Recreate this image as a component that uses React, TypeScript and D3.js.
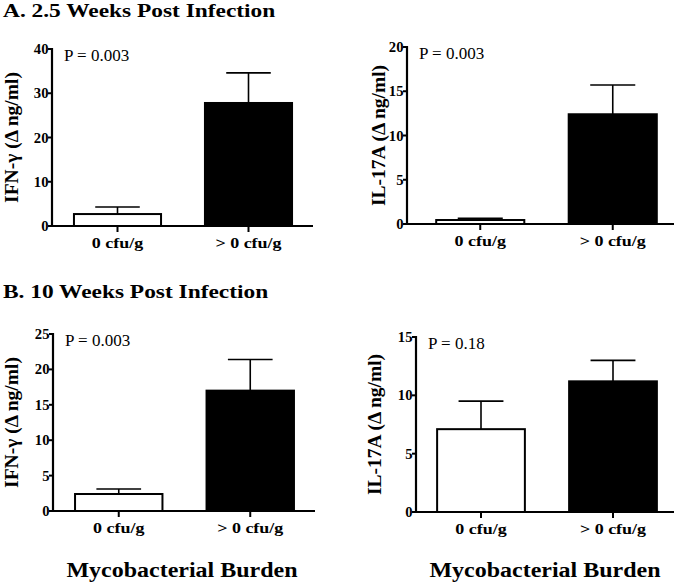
import React from "react";
import * as d3 from "d3";

const categories = ["0 cfu/g", "> 0 cfu/g"];

const aIfnMeans = [2.7, 27.8];
const aIfnErr = [4.3, 34.6];
const aIl17Means = [0.45, 12.4];
const aIl17Err = [0.65, 15.7];
const bIfnMeans = [2.4, 17.0];
const bIfnErr = [3.1, 21.4];
const bIl17Means = [7.1, 11.2];
const bIl17Err = [9.5, 13.0];

const aIfnTicks = [0, 10, 20, 30, 40];
const aIl17Ticks = [0, 5, 10, 15, 20];
const bIfnTicks = [0, 5, 10, 15, 20, 25];
const bIl17Ticks = [0, 5, 10, 15];

const pValues = ["P = 0.003", "P = 0.003", "P = 0.003", "P = 0.18"];
const yLabels = ["IFN-γ (Δ ng/ml)", "IL-17A (Δ ng/ml)", "IFN-γ (Δ ng/ml)", "IL-17A (Δ ng/ml)"];
const titles = ["A. 2.5 Weeks Post Infection", "B. 10 Weeks Post Infection"];
const xTitle = "Mycobacterial Burden";

const FONT = "Liberation Serif";
const SX = 1.2;

type Panel = {
  means: number[];
  errs: number[];
  ticks: number[];
  p: string;
  ylab: string;
  axisX: number;
  xRange: [number, number];
  axisEnd: number;
  top: number;
  zero: number;
  ylabX: number;
};

const panels: Panel[] = [
  { means: aIfnMeans, errs: aIfnErr, ticks: aIfnTicks, p: pValues[0], ylab: yLabels[0], axisX: 52, xRange: [52, 314], axisEnd: 313, top: 49, zero: 226, ylabX: 18 },
  { means: aIl17Means, errs: aIl17Err, ticks: aIl17Ticks, p: pValues[1], ylab: yLabels[1], axisX: 407, xRange: [414, 679], axisEnd: 674, top: 47, zero: 224, ylabX: 385 },
  { means: bIfnMeans, errs: bIfnErr, ticks: bIfnTicks, p: pValues[2], ylab: yLabels[2], axisX: 53, xRange: [53, 316], axisEnd: 315, top: 334, zero: 511, ylabX: 18 },
  { means: bIl17Means, errs: bIl17Err, ticks: bIl17Ticks, p: pValues[3], ylab: yLabels[3], axisX: 416, xRange: [415, 679], axisEnd: 674, top: 337, zero: 512, ylabX: 381 },
];

const txt = (size: number, bold: boolean): React.CSSProperties => ({
  fontFamily: FONT,
  fontSize: size,
  fontWeight: bold ? 700 : 400,
});

function SText(props: { x: number; y: number; size: number; bold: boolean; anchor?: string; sx?: number; children: React.ReactNode }) {
  const { x, y, size, bold, anchor, sx, children } = props;
  return (
    <text
      transform={`translate(${x},${y}) scale(${sx ?? SX},1)`}
      textAnchor={anchor ?? "start"}
      style={txt(size, bold)}
    >
      {children}
    </text>
  );
}

function BarPanel({ pn }: { pn: Panel }) {
  const x = d3.scaleBand<string>().domain(categories).range(pn.xRange).paddingInner(0.32).paddingOuter(0.16);
  const maxT = pn.ticks[pn.ticks.length - 1];
  const y = d3.scaleLinear().domain([0, maxT]).range([pn.zero, pn.top]);
  const bw = x.bandwidth();
  const midY = (pn.top + pn.zero) / 2;
  return (
    <g>
      {categories.map((c, i) => {
        const cx = (x(c) as number) + bw / 2;
        const cap = bw / 4;
        return (
          <g key={c}>
            <line x1={cx} x2={cx} y1={y(pn.means[i])} y2={y(pn.errs[i])} stroke="#000" strokeWidth={1.6} />
            <line x1={cx - cap} x2={cx + cap} y1={y(pn.errs[i])} y2={y(pn.errs[i])} stroke="#000" strokeWidth={1.6} />
            <rect
              x={(x(c) as number) + 1}
              y={y(pn.means[i])}
              width={bw - 2}
              height={pn.zero - y(pn.means[i])}
              fill={i === 0 ? "#fff" : "#000"}
              stroke="#000"
              strokeWidth={2}
            />
            <line x1={cx} x2={cx} y1={pn.zero} y2={pn.zero + 6} stroke="#000" strokeWidth={2} />
            <SText x={cx} y={pn.zero + 22} size={15} bold anchor="middle">
              {c}
            </SText>
          </g>
        );
      })}
      <line x1={pn.axisX} x2={pn.axisX} y1={pn.top - 1} y2={pn.zero + 1} stroke="#000" strokeWidth={2.2} />
      <line x1={pn.axisX - 1} x2={pn.axisEnd} y1={pn.zero} y2={pn.zero} stroke="#000" strokeWidth={2.2} />
      {pn.ticks.map((t) => (
        <g key={t}>
          <line x1={pn.axisX - 4} x2={pn.axisX} y1={y(t)} y2={y(t)} stroke="#000" strokeWidth={2} />
          <SText x={pn.axisX - 3.5} y={y(t) + 5} size={14} bold anchor="end" sx={1.05}>
            {t}
          </SText>
        </g>
      ))}
      <text x={pn.axisX + 12} y={pn.top + 12} style={txt(17, false)}>
        {pn.p}
      </text>
      <text transform={`translate(${pn.ylabX},${midY}) rotate(-90)`} textAnchor="middle" style={txt(19.5, true)}>
        {pn.ylab}
      </text>
    </g>
  );
}

export default function App() {
  return (
    <svg width={680} height={585} style={{ position: "absolute", left: 0, top: 0, background: "#fff" }}>
      <rect width={680} height={585} fill="#fff" />
      <SText x={3} y={17} size={19.5} bold>
        {titles[0]}
      </SText>
      <SText x={3} y={298} size={19.5} bold>
        {titles[1]}
      </SText>
      {panels.map((pn, i) => (
        <BarPanel key={i} pn={pn} />
      ))}
      <SText x={182} y={577} size={20} bold anchor="middle">
        {xTitle}
      </SText>
      <SText x={545} y={577} size={20} bold anchor="middle">
        {xTitle}
      </SText>
    </svg>
  );
}
